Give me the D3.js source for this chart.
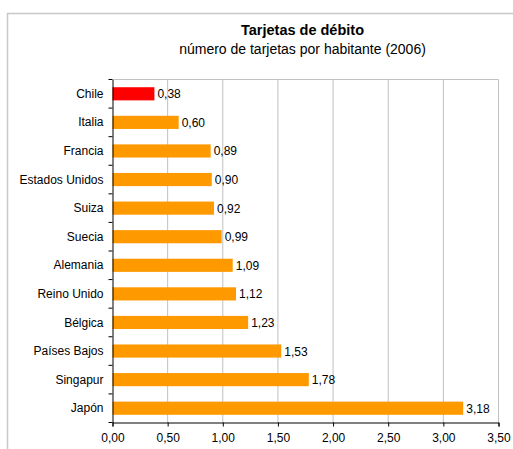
<!DOCTYPE html>
<html><head><meta charset="utf-8">
<script src="https://cdn.jsdelivr.net/npm/d3@7"></script>
<style>body{margin:0;background:#fff}svg{display:block}svg text{font-family:"Liberation Sans",Arial,sans-serif}</style>
</head><body>
<svg id="c" width="513" height="449"></svg>
<script>
const categories = ["Chile","Italia","Francia","Estados Unidos","Suiza","Suecia","Alemania","Reino Unido","Bélgica","Países Bajos","Singapur","Japón"];
const values = [0.38,0.60,0.89,0.90,0.92,0.99,1.09,1.12,1.23,1.53,1.78,3.18];
const xTicks = [0,0.5,1,1.5,2,2.5,3,3.5];
const title = "Tarjetas de débito";
const subtitle = "número de tarjetas por habitante (2006)";

const svg = d3.select("#c");
const m = {l:112.5, r:498.5, t:79.5, b:422.5};
const fmt = v => d3.format(".2f")(v).replace(".", ",");
const FF = "'Liberation Sans', Arial, sans-serif";

svg.append("rect").attr("x",7.5).attr("y",13.5).attr("width",520).attr("height",460)
  .attr("fill","#fff").attr("stroke","#c8c8c8").attr("stroke-width",1.5);

svg.append("text").attr("x",302.5).attr("y",35).attr("text-anchor","middle")
  .attr("font-size",14.5).attr("font-weight","bold").text(title);
svg.append("text").attr("x",302.5).attr("y",54).attr("text-anchor","middle")
  .attr("font-size",14).text(subtitle);

const x = d3.scaleLinear().domain([0,3.5]).range([m.l,m.r]);
const y = d3.scaleBand().domain(categories).range([m.t,m.b]).paddingInner(0.54).paddingOuter(0.27);

// gridlines
svg.append("g").selectAll("line").data(xTicks.slice(1)).join("line")
  .attr("x1",d=>x(d)).attr("x2",d=>x(d)).attr("y1",m.t).attr("y2",m.b)
  .attr("stroke","#c0c0c0").attr("stroke-width",1);
svg.append("line").attr("x1",m.l).attr("x2",m.r).attr("y1",m.t).attr("y2",m.t).attr("stroke","#c0c0c0");

// bars
svg.append("g").selectAll("rect").data(categories).join("rect")
  .attr("x",x(0)).attr("y",d=>y(d))
  .attr("width",(d,i)=>x(values[i])-x(0)).attr("height",y.bandwidth())
  .attr("fill",(d,i)=>i===0?"#ff0000":"#ff9900");

// value labels
svg.append("g").selectAll("text").data(categories).join("text")
  .attr("x",(d,i)=>x(values[i])+3).attr("y",d=>y(d)+y.bandwidth()/2+4.5)
  .attr("font-size",12).text((d,i)=>fmt(values[i]));

// x axis
const xa = svg.append("g").attr("transform",`translate(0,${m.b})`)
  .call(d3.axisBottom(x).tickValues(xTicks).tickFormat(fmt).tickSize(4).tickPadding(7));
xa.selectAll("text").attr("font-size",12).attr("font-family",FF).attr("fill","#000");
xa.select(".domain").attr("stroke","#000");
xa.selectAll(".tick line").attr("stroke","#000");

// y axis
const ya = svg.append("g").attr("transform",`translate(${m.l},0)`)
  .call(d3.axisLeft(y).tickSize(0).tickPadding(9));
ya.selectAll("text").attr("font-size",12).attr("font-family",FF).attr("fill","#000").attr("dy","0.34em");
ya.select(".domain").attr("stroke","#000");
const bounds = d3.range(categories.length+1).map(i=>m.t + i*(m.b-m.t)/categories.length);
svg.append("g").selectAll("line").data(bounds).join("line")
  .attr("x1",m.l-4).attr("x2",m.l).attr("y1",d=>d).attr("y2",d=>d).attr("stroke","#000");
</script>
</body></html>
